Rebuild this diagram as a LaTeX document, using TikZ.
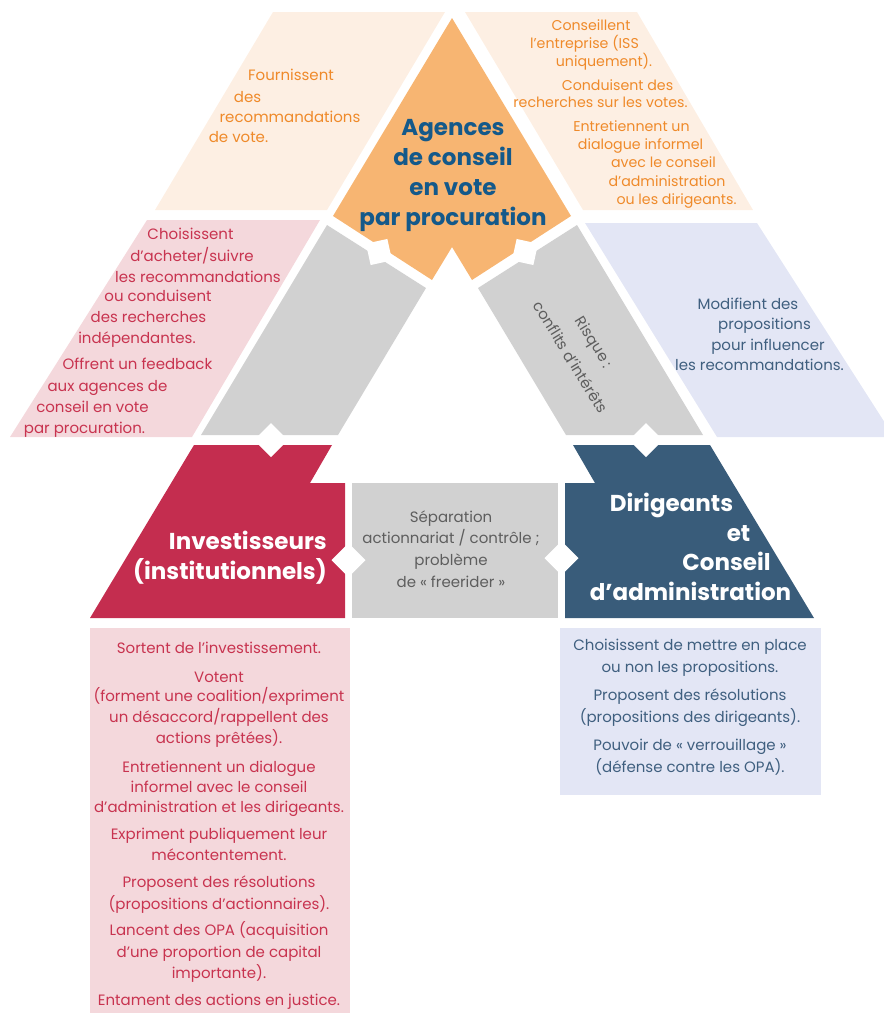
\documentclass[tikz,border=0pt]{standalone}
\usepackage{fontspec}
\setmainfont{Poppins}
\usetikzlibrary{shapes.geometric}
\definecolor{peach}{HTML}{FDEFE3}
\definecolor{orangeA}{HTML}{F7B572}
\definecolor{pinkL}{HTML}{F4D8DC}
\definecolor{crimson}{HTML}{C42D4F}
\definecolor{lav}{HTML}{E3E6F5}
\definecolor{slate}{HTML}{395C7A}
\definecolor{grayB}{HTML}{D1D1D1}
\definecolor{otext}{HTML}{EF8A2A}
\definecolor{ctext}{HTML}{C8334F}
\definecolor{stext}{HTML}{3F5F7F}
\definecolor{gtext}{HTML}{5E5E5E}
\definecolor{tblue}{HTML}{14598A}
\begin{document}
\begin{tikzpicture}[x=1pt,y=-1pt,
  notch/.style={diamond, fill=white, draw=none, inner sep=0pt, outer sep=0pt, aspect=1, minimum width=#1, minimum height=#1},
  notch/.default=34pt,
  body/.style={inner sep=0pt, anchor=mid, yshift=-3pt, font=\fontsize{15}{18}\selectfont},
  smallbody/.style={inner sep=0pt, anchor=mid, yshift=-2pt, font=\fontsize{14.2}{18}\selectfont},
  ttl/.style={inner sep=0pt, font=\bfseries\fontsize{23}{30}\selectfont},
  rot/.style={inner sep=0pt, text=gtext, rotate=-58.5, font=\fontsize{15}{18}\selectfont}]
\useasboundingbox (0,0) rectangle (884,1013);
\clip (0,0) rectangle (884,1013);

% side parallelograms
\fill[peach] (273,12) -- (445,12) -- (327,210) -- (155,210) -- cycle;
\fill[peach] (465,12) -- (637,12) -- (753,210) -- (583,210) -- cycle;
\fill[pinkL] (147,220) -- (320,220) -- (192,437) -- (10,437) -- cycle;
\fill[lav] (585,223) -- (757,223) -- (894,437) -- (717,437) -- cycle;

% pyramid
\fill[orangeA] (452,18) -- (571,216) -- (472,280) -- (452,247) -- (432,280) -- (333,216) -- cycle;
\fill[grayB] (327,225) -- (426,288) -- (338,435) -- (201,435) -- cycle;
\fill[grayB] (577,225) -- (478,288) -- (566,435) -- (703,435) -- cycle;
\fill[crimson] (194,445) -- (332,445) -- (310,483) -- (345,483) -- (345,618) -- (90,618) -- cycle;
\fill[slate] (573,445) -- (710,445) -- (814,618) -- (565,618) -- (565,483) -- (595,483) -- cycle;
\fill[grayB] (352,483) rectangle (558,618);

% lower boxes
\fill[pinkL] (90,628) rectangle (350,1013);
\fill[lav] (560,628) rectangle (821,795);

% white diamond links
\node[notch=31pt, rotate=-32.7] (d1) at (379,252) {};
\node[notch=31pt, rotate=32.7] (d2) at (525,252) {};
\node[notch] (d3) at (271,440) {};
\node[notch] (d4) at (646,440) {};
\node[notch] (d5) at (348.5,560) {};
\node[notch] (d6) at (561.5,558) {};

% titles
\node[ttl, text=tblue, align=center, anchor=center] (ag) at (453,175) {Agences\\de conseil\\en vote\\par procuration};
\node[ttl, text=white, align=right, anchor=east] (inv) at (327,558) {Investisseurs\\(institutionnels)};
\foreach \px/\py/\t [count=\i] in {671.5/504/Dirigeants,738.5/534/et,726.5/563/Conseil,690.5/593/d’administration}
  \node[ttl, text=white, anchor=mid, yshift=-5pt] (dir\i) at (\px,\py) {\t};

% top-left text
\foreach \px/\py/\t [count=\i] in {291/75/Fournissent,247.5/97/des,290/117/recommandations,238.5/137/{de vote.}}
  \node[body, text=otext] (tl\i) at (\px,\py) {\t};

% top-right text
\foreach \px/\py/\t [count=\i] in {591/26/Conseillent,584.5/44/{l’entreprise (ISS},604/62/{uniquement).},617.5/86/{Conduisent des},600.5/103/{recherches sur les votes.},631.5/127/{Entretiennent un},640.5/145/{dialogue informel},663.5/163/{avec le conseil},667/182/{d’administration},676.5/200/{ou les dirigeants.}}
  \node[smallbody, text=otext] (tr\i) at (\px,\py) {\t};

% left pink text
\foreach \px/\py/\t [count=\i] in {190.5/234/Choisissent,192/256/{d’acheter/suivre},198/277/{les recommandations},158/296/{ou conduisent},148.5/317/{des recherches},137/338/{indépendantes.},137.5/364/{Offrent un feedback},107.5/386/{aux agences de},92.5/407/{conseil en vote},84.5/428/{par procuration.}}
  \node[body, text=ctext] (ml\i) at (\px,\py) {\t};

% right lavender text
\foreach \px/\py/\t [count=\i] in {748/304/{Modifient des},764.5/324/{propositions},768/345/{pour influencer},759.5/365/{les recommandations.}}
  \node[body, text=stext] (mr\i) at (\px,\py) {\t};

% risk text (two rotated lines)
\node[rot] (risk1) at (593,343) {Risque :};
\node[rot] (risk2) at (571,357) {conflits d’intérêts};

% center gray text
\node[inner sep=0pt, text=gtext, align=center, font=\fontsize{15}{21.7}\selectfont] (sep) at (451,549) {Séparation\\actionnariat / contrôle ;\\problème\\de « freerider »};

% bottom pink text
\foreach \py/\t [count=\i] in {648/{Sortent de l’investissement.},677/{Votent},696/{(forment une coalition/expriment},717/{un désaccord/rappellent des},738/{actions prêtées).},767/{Entretiennent un dialogue},787/{informel avec le conseil},807/{d’administration et les dirigeants.},834/{Expriment publiquement leur},855/{mécontentement.},882/{Proposent des résolutions},904/{(propositions d’actionnaires).},930/{Lancent des OPA (acquisition},952/{d’une proportion de capital},973/{importante).},1000/{Entament des actions en justice.}}
  \node[body, text=ctext] (bl\i) at (219,\py) {\t};

% bottom lavender text
\foreach \py/\t [count=\i] in {645/{Choisissent de mettre en place},667/{ou non les propositions.},695/{Proposent des résolutions},717/{(propositions des dirigeants).},745/{Pouvoir de « verrouillage »},767/{(défense contre les OPA).}}
  \node[body, text=stext] (br\i) at (690,\py) {\t};
\end{tikzpicture}
\end{document}
